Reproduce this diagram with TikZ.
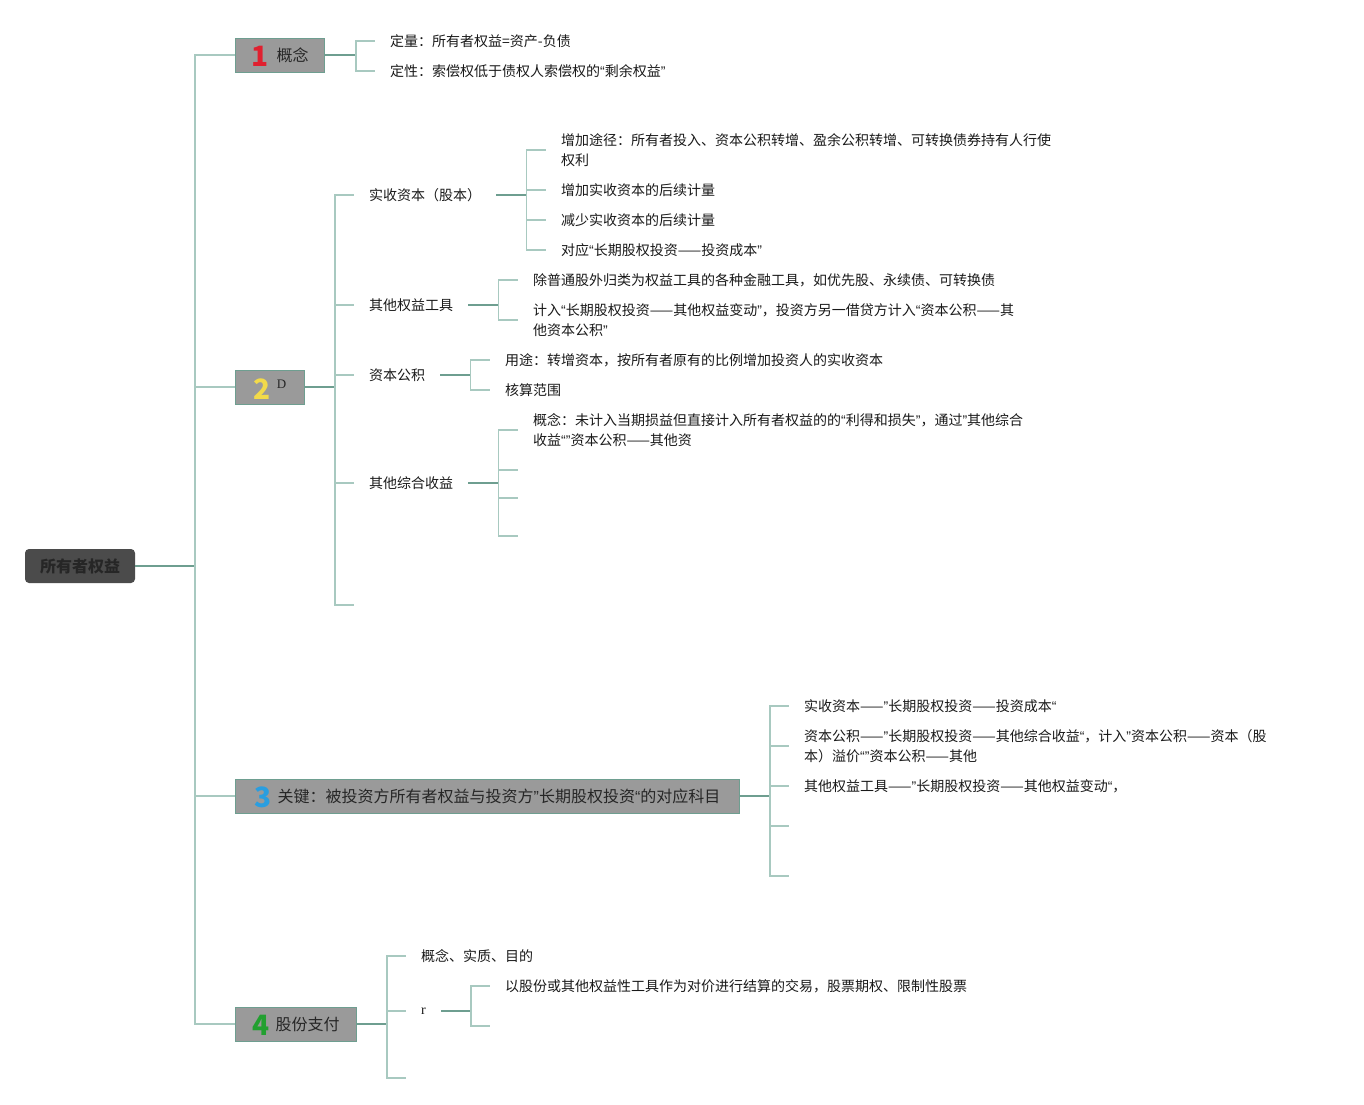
\documentclass[tikz,border=0pt]{standalone}
\usepackage{fontspec}
\usepackage{graphicx}
\usepackage{tikz}
\newfontfamily\cjk{Noto Sans CJK SC}
\newfontfamily\serif{Liberation Serif}
\newfontfamily\qfont{Liberation Sans}
\definecolor{dk}{HTML}{6E9E90}
\definecolor{lt}{HTML}{A8C9C0}
\definecolor{boxgray}{HTML}{9A9A9A}
\definecolor{rootgray}{HTML}{4B4B4B}
\definecolor{numred}{HTML}{E0202F}
\definecolor{numyellow}{HTML}{F2DA4A}
\definecolor{numblue}{HTML}{2A9EE0}
\definecolor{numgreen}{HTML}{22A030}
\newcommand{\numtag}[2]{\smash{\raisebox{-5pt}{\textcolor{#1}{\fontsize{28}{28}\selectfont\bfseries #2}}}}
\newcommand{\oquote}{{\qfont “}}
\newcommand{\cquote}{{\qfont ”}}
\tikzset{
  root/.style={fill=rootgray, rounded corners=4pt, minimum width=110, minimum height=34, inner sep=0, text=black!85, font={\cjk\bfseries\fontsize{16}{16}\selectfont}},
  topic/.style={draw=dk, line width=1pt, fill=boxgray, minimum height=34, inner sep=0, anchor=west, text=black!85, font={\cjk\fontsize{16}{16}\selectfont}},
  leaf/.style={anchor=west, inner xsep=15pt, inner ysep=2pt, align=left, text=black!90, font={\cjk\fontsize{14}{20}\selectfont}},
  dkline/.style={draw=dk, line width=1.6pt},
  ltline/.style={draw=lt, line width=1.4pt}
}

\begin{document}
\begin{tikzpicture}[x=1pt,y=-1pt]
\useasboundingbox (0,0) rectangle (1364,1104);

\node[root] (root) at (80,566) {所有者权益};
\node[topic, minimum width=89] (b1) at (235,55) {\numtag{numred}{1}\hspace{8pt}概念};
\node[topic, minimum width=69] (b2) at (235,387) {\numtag{numyellow}{2}\hspace{6pt}\raisebox{6.5pt}{\serif\fontsize{13}{13}\selectfont D}};
\node[topic, minimum width=504] (b3) at (235,796) {\numtag{numblue}{3}\hspace{6pt}关键：被投资方所有者权益与投资方\cquote 长期股权投资\oquote 的对应科目};
\node[topic, minimum width=121] (b4) at (235,1024) {\numtag{numgreen}{4}\hspace{6pt}股份支付};

\draw[dkline] (root.east) -- (195,566) coordinate (j0);
\foreach \t in {b1,b2,b3,b4} \draw[ltline] (j0) |- (\t.west);

% 1
\node[leaf] (q1) at (375,41) {定量：所有者权益=资产-负债};
\node[leaf] (q2) at (375,71) {定性：索偿权低于债权人索偿权的\oquote 剩余权益\cquote};
\draw[dkline] (b1.east) -- ++(31,0) coordinate (j1);
\foreach \c in {q1,q2} \draw[ltline] (j1) |- (\c.west);

% 2
\node[leaf] (s1) at (354,195) {实收资本（股本）};
\node[leaf] (s2) at (354,305) {其他权益工具};
\node[leaf] (s3) at (354,375) {资本公积};
\node[leaf] (s4) at (354,483) {其他综合收益};
\coordinate (s5) at (354,605);
\draw[dkline] (b2.east) -- ++(30,0) coordinate (j2);
\foreach \c in {s1,s2,s3,s4} \draw[ltline] (j2) |- (\c.west);
\draw[ltline] (j2) |- (s5);

\node[leaf] (a1) at (546,150) {增加途径：所有者投入、资本公积转增、盈余公积转增、可转换债券持有人行使\\权利};
\node[leaf] (a2) at (546,190) {增加实收资本的后续计量};
\node[leaf] (a3) at (546,220) {减少实收资本的后续计量};
\node[leaf] (a4) at (546,250) {对应\oquote 长期股权投资——投资成本\cquote};
\draw[dkline] (s1.east) -- ++(30,0) coordinate (js1);
\foreach \c in {a1,a2,a3,a4} \draw[ltline] (js1) |- (\c.west);

\node[leaf] (e1) at (518,280) {除普通股外归类为权益工具的各种金融工具，如优先股、永续债、可转换债};
\node[leaf] (e2) at (518,320) {计入\oquote 长期股权投资——其他权益变动\cquote，投资方另一借贷方计入\oquote 资本公积——其\\他资本公积\cquote};
\draw[dkline] (s2.east) -- ++(30,0) coordinate (js2);
\foreach \c in {e1,e2} \draw[ltline] (js2) |- (\c.west);

\node[leaf] (f1) at (490,360) {用途：转增资本，按所有者原有的比例增加投资人的实收资本};
\node[leaf] (f2) at (490,390) {核算范围};
\draw[dkline] (s3.east) -- ++(30,0) coordinate (js3);
\foreach \c in {f1,f2} \draw[ltline] (js3) |- (\c.west);

\node[leaf] (g1) at (518,430) {概念：未计入当期损益但直接计入所有者权益的的\oquote 利得和损失\cquote，通过\cquote 其他综合\\收益\oquote\cquote 资本公积——其他资};
\coordinate (g2) at (518,470);
\coordinate (g3) at (518,498);
\coordinate (g4) at (518,536);
\draw[dkline] (s4.east) -- ++(30,0) coordinate (js4);
\draw[ltline] (js4) |- (g1.west);
\foreach \c in {g2,g3,g4} \draw[ltline] (js4) |- (\c);

% 3
\node[leaf] (h1) at (789,706) {实收资本——\cquote 长期股权投资——投资成本\oquote};
\node[leaf] (h2) at (789,746) {资本公积——\cquote 长期股权投资——其他综合收益\oquote，计入\cquote 资本公积——资本（股\\本）溢价\oquote\cquote 资本公积——其他};
\node[leaf] (h3) at (789,786) {其他权益工具——\cquote 长期股权投资——其他权益变动\oquote，};
\coordinate (h4) at (789,826);
\coordinate (h5) at (789,876);
\draw[dkline] (b3.east) -- ++(30,0) coordinate (j3);
\foreach \c in {h1,h2,h3} \draw[ltline] (j3) |- (\c.west);
\foreach \c in {h4,h5} \draw[ltline] (j3) |- (\c);

% 4
\node[leaf] (k1) at (406,956) {概念、实质、目的};
\node[leaf, font={\serif\fontsize{14}{20}\selectfont}] (k2) at (406,1011) {r};
\coordinate (k3) at (406,1078);
\draw[dkline] (b4.east) -- ++(30,0) coordinate (j4);
\foreach \c in {k1,k2} \draw[ltline] (j4) |- (\c.west);
\draw[ltline] (j4) |- (k3);

\node[leaf] (m1) at (490,986) {以股份或其他权益性工具作为对价进行结算的交易，股票期权、限制性股票};
\coordinate (m2) at (490,1026);
\draw[dkline] (k2.east) -- ++(30,0) coordinate (jk2);
\draw[ltline] (jk2) |- (m1.west);
\draw[ltline] (jk2) |- (m2);
\end{tikzpicture}
\end{document}
